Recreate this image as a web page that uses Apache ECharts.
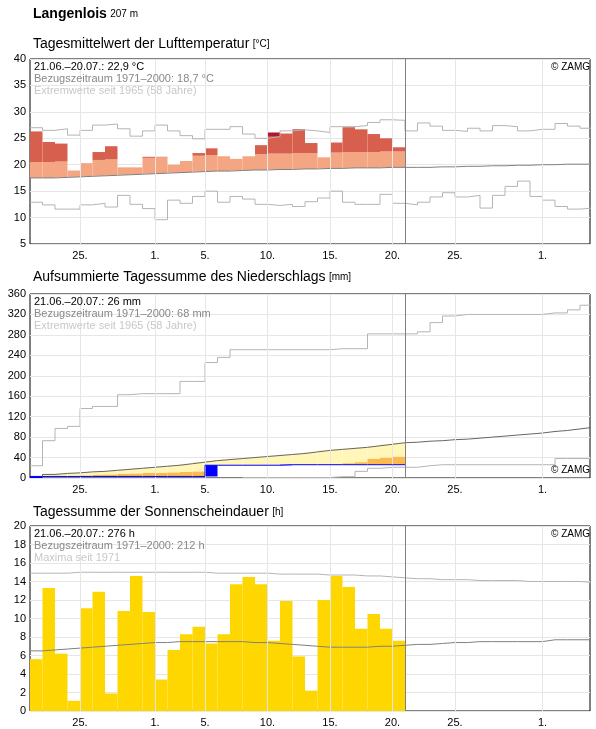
<!DOCTYPE html>
<html>
<head>
<meta charset="utf-8">
<script src="https://cdn.jsdelivr.net/npm/echarts@6/dist/echarts.min.js"></script>
<style>html,body{margin:0;padding:0;background:#fff}#c{width:596px;height:729px}</style>
</head>
<body>
<div id="c"></div>
<script>
// days from 21.06. (index 0) to 04.08. (index 44); observed period 21.06.-20.07. = index 0..29
const tickLabels = { 4: '25.', 10: '1.', 14: '5.', 19: '10.', 24: '15.', 29: '20.', 34: '25.', 41: '1.' };

// temperature (°C)
const tempMean = [26.3, 24.3, 24.0, 18.9, 20.3, 22.4, 23.5, 19.5, 19.5, 21.5, 21.5, 20.0, 20.7, 22.2, 23.1,
  21.6, 21.1, 21.6, 23.7, 26.1, 25.9, 26.7, 24.1, 21.4, 24.2, 27.1, 26.7, 25.8, 25.0, 23.3];
const tempClim = [17.5, 17.5, 17.6, 17.7, 17.8, 17.9, 18.0, 18.1, 18.2, 18.3, 18.4, 18.5, 18.6, 18.7, 18.8,
  18.8, 18.9, 19.0, 19.0, 19.1, 19.1, 19.2, 19.2, 19.3, 19.3, 19.4, 19.4, 19.4, 19.5, 19.5,
  19.5, 19.5, 19.6, 19.6, 19.7, 19.7, 19.8, 19.8, 19.9, 19.9, 20.0, 20.0, 20.1, 20.1, 20.1];
const tempMax = [27.0, 26.5, 26.8, 25.6, 26.5, 27.5, 27.7, 26.8, 25.4, 26.4, 27.5, 26.4, 25.5, 24.9, 26.7,
  26.7, 27.2, 25.8, 25.0, 25.3, 26.4, 26.6, 26.4, 26.1, 27.2, 27.2, 27.4, 28.0, 28.5, 28.4,
  26.4, 27.9, 27.3, 26.5, 26.3, 26.9, 26.4, 27.4, 27.2, 26.4, 26.7, 26.7, 27.8, 27.3, 26.9];
const tempMin = [12.9, 12.4, 11.6, 11.6, 12.4, 12.7, 12.0, 14.2, 12.5, 11.7, 9.6, 13.3, 12.7, 14.0, 15.0,
  12.9, 14.0, 13.5, 12.5, 12.3, 12.5, 12.1, 13.0, 13.7, 15.0, 12.9, 12.5, 12.5, 14.4, 12.7,
  12.4, 12.9, 13.9, 14.7, 13.9, 14.2, 11.8, 14.2, 15.9, 16.9, 14.0, 13.3, 12.1, 11.6, 11.8];

// precipitation (mm)
const rainDaily = [3, 0, 0, 0, 0, 0, 0, 0, 0, 0, 0, 0, 0, 0, 22, 0, 0, 0, 0, 0, 1, 0, 0, 0, 0, 0, 0, 0, 0, 0];
const rainClim = [3, 7, 9, 10, 12, 13, 15, 17, 19, 21, 23, 25, 28, 31, 34, 36, 38, 40, 42, 44, 46, 48, 51, 54, 56,
  58, 60, 63, 66, 69, 70, 72, 73, 75, 76, 78, 80, 82, 84, 86, 88, 91, 93, 96, 99];
const rainLow = [1, 2, 3, 4, 5, 6, 7, 8, 9, 10, 10, 11, 12, 13, 14, 15, 16, 17, 18, 19, 20, 21, 22, 24, 27,
  29, 31, 38, 40, 42];
const rainMax = [24, 73, 97, 101, 136, 140, 140, 163, 165, 165, 165, 165, 189, 189, 226, 236, 251, 251, 251, 251,
  251, 251, 251, 251, 253, 253, 253, 282, 282, 282, 282, 286, 304, 317, 320, 320, 320, 320, 320, 320, 320,
  323, 323, 329, 338];
const rainMin = [null, null, null, null, null, null, null, null, null, null, null, null, null, null, null, null, null,
  1, 1, 1, 1, 1, 1, 1, 2.6, 2.6, 13, 19, 21, 21, 21, 24, 26, 26, 26, 26, 26, 26, 26, 26, 26, 26, 38, 38, 38];

// sunshine (h)
const sun = [5.6, 13.3, 6.2, 1.1, 11.1, 12.9, 1.9, 10.8, 14.6, 10.7, 3.4, 6.6, 8.3, 9.1, 7.3,
  8.3, 13.7, 14.5, 13.7, 7.6, 11.9, 5.9, 2.2, 12.0, 14.6, 13.4, 8.9, 10.5, 8.9, 7.6];
const sunClim = [6.5, 6.6, 6.7, 6.8, 6.9, 7.0, 7.1, 7.2, 7.3, 7.4, 7.4, 7.5, 7.5, 7.5, 7.5,
  7.5, 7.5, 7.4, 7.4, 7.3, 7.2, 7.1, 7.0, 6.9, 6.9, 6.9, 6.9, 7.0, 7.0, 7.1,
  7.2, 7.2, 7.3, 7.4, 7.4, 7.5, 7.5, 7.5, 7.5, 7.5, 7.5, 7.7, 7.7, 7.7, 7.7];
const sunMax = [14.9, 14.9, 14.9, 15.0, 15.0, 15.0, 15.0, 15.0, 15.0, 15.0, 15.0, 15.0, 15.0, 15.0, 14.9,
  14.9, 14.9, 14.9, 14.9, 14.8, 14.8, 14.8, 14.8, 14.7, 14.7, 14.7, 14.6, 14.6, 14.5, 14.4,
  14.3, 14.3, 14.2, 14.2, 14.2, 14.1, 14.1, 14.1, 14.1, 14.0, 14.0, 14.0, 14.0, 14.0, 13.9];

const FONT = '"Liberation Sans", Arial, sans-serif';
const rectsTemp = [];
tempMean.forEach((t, i) => {
  const base = tempClim[i], thr = base + 3, mx = tempMax[i];
  rectsTemp.push([i, base, Math.min(t, thr), '#f4a582']);
  if (t > thr) rectsTemp.push([i, thr, Math.min(t, mx), '#d6604d']);
  if (t > mx) rectsTemp.push([i, mx, t, '#b2182b']);
});
const rectsRain = [];
let cum = 0;
const rainCum = [];
rainDaily.forEach((r, i) => {
  const prev = cum;
  cum += r;
  const lo = Math.max(cum, rainLow[i]);
  if (rainLow[i] > cum) rectsRain.push([i, cum, rainLow[i], '#fdb94d']);
  if (rainClim[i] > lo) rectsRain.push([i, lo, rainClim[i], '#fff6b8']);
  if (r > 0) rectsRain.push([i, prev, cum, '#0000ff', 1]);
  rainCum.push(cum);
});
const rectsSun = sun.map((s, i) => [i, 0, s, '#ffd700']);

function steps(arr) {
  const d = arr.map((v, i) => [i, v]);
  d.push([arr.length, arr[arr.length - 1]]);
  return d;
}
function rectSeries(data, g, z) {
  return {
    type: 'custom', xAxisIndex: g, yAxisIndex: g, z: z || 2, silent: true, data: data,
    renderItem: (p, api) => {
      const a = api.coord([api.value(0), api.value(2)]);
      const b = api.coord([api.value(0) + 1, api.value(1)]);
      return { type: 'rect', shape: { x: a[0], y: a[1], width: b[0] - a[0], height: b[1] - a[1] },
        style: { fill: data[p.dataIndex][3] }, z2: data[p.dataIndex][4] ? 5 : 0 };
    }
  };
}
function stepLine(arr, g, color, z) {
  return { type: 'line', xAxisIndex: g, yAxisIndex: g, step: 'end', data: steps(arr), symbol: 'none',
    silent: true, z: z || 3, lineStyle: { color: color, width: 1 }, connectNulls: false };
}
function gridLines(g) {
  return { type: 'line', xAxisIndex: g, yAxisIndex: g, data: [], z: 1, silent: true,
    markLine: { symbol: 'none', silent: true, label: { show: false }, animation: false,
      lineStyle: { color: '#e6e6e6', type: 'solid', width: 1 },
      data: Object.keys(tickLabels).map(k => ({ xAxis: +k })) } };
}
function nowLine(g) {
  return { type: 'line', xAxisIndex: g, yAxisIndex: g, data: [], z: 6, silent: true,
    markLine: { symbol: 'none', silent: true, label: { show: false }, animation: false,
      lineStyle: { color: '#808080', type: 'solid', width: 1 }, data: [{ xAxis: 30 }] } };
}
const grids = [{ top: 59, h: 185 }, { top: 294, h: 184 }, { top: 526, h: 185 }];
const yRanges = [[5, 40, 5], [0, 360, 40], [0, 20, 2]];

function infoText(y, lines) {
  const cols = ['#000', '#888', '#c8c8c8'];
  return lines.map((t, k) => ({ type: 'text', left: 34, top: y + k * 12, z: 10,
    style: { text: t, fill: cols[k], font: '11px ' + FONT } }));
}
function title(y, main, unit) {
  return { type: 'text', left: 33, top: y, z: 10, style: {
    text: '{a|' + main + '} {b|' + unit + '}', rich: { a: { font: '14px ' + FONT, fill: '#000' }, b: { font: '10px ' + FONT, fill: '#000' } } } };
}
const zamg = (x, y) => ({ type: 'text', left: x, top: y, z: 10, style: { text: '© ZAMG', fill: '#000', font: '10px ' + FONT } });

const chart = echarts.init(document.getElementById('c'), null, { renderer: 'canvas' });
chart.setOption({
  animation: false,
  grid: grids.map(g => ({ left: 30, right: 6, top: g.top, height: g.h, show: true, borderColor: '#000', borderWidth: 1, backgroundColor: 'transparent' })),
  xAxis: grids.map((g, k) => ({ type: 'value', gridIndex: k, min: 0, max: 44.8, interval: 1,
    axisLine: { show: false }, axisTick: { show: false }, splitLine: { show: false },
    axisLabel: { color: '#000', fontSize: 11, fontFamily: FONT, margin: 6, showMaxLabel: false,
      formatter: v => tickLabels[v] || '' } })),
  yAxis: yRanges.map((r, k) => ({ type: 'value', gridIndex: k, min: r[0], max: r[1], interval: r[2],
    axisLine: { show: false }, axisTick: { show: false },
    splitLine: { lineStyle: { color: '#e6e6e6' } },
    axisLabel: { color: '#000', fontSize: 11, fontFamily: FONT, margin: 4 } })),
  graphic: [
    { type: 'text', left: 33, top: 7, style: { text: '{a|Langenlois} {b|207 m}',
      rich: { a: { font: 'bold 14px ' + FONT, fill: '#000' }, b: { font: '10px ' + FONT, fill: '#000' } } } },
    title(37, 'Tagesmittelwert der Lufttemperatur', '[°C]'),
    title(270, 'Aufsummierte Tagessumme des Niederschlags', '[mm]'),
    title(505, 'Tagessumme der Sonnenscheindauer', '[h]'),
    ...infoText(61, ['21.06.–20.07.: 22,9 °C', 'Bezugszeitraum 1971–2000: 18,7 °C', 'Extremwerte seit 1965 (58 Jahre)']),
    ...infoText(296, ['21.06.–20.07.: 26 mm', 'Bezugszeitraum 1971–2000: 68 mm', 'Extremwerte seit 1965 (58 Jahre)']),
    ...infoText(528, ['21.06.–20.07.: 276 h', 'Bezugszeitraum 1971–2000: 212 h', 'Maxima seit 1971']),
    zamg(551, 62), zamg(551, 465), zamg(551, 529)
  ],
  series: [
    gridLines(0), gridLines(1), gridLines(2),
    rectSeries(rectsTemp, 0), stepLine(tempMax, 0, '#b4b4b4'), stepLine(tempMin, 0, '#b4b4b4'), stepLine(tempClim, 0, '#808080', 4),
    rectSeries(rectsRain, 1), stepLine(rainMax, 1, '#b4b4b4'), stepLine(rainMin, 1, '#b4b4b4'), stepLine(rainClim, 1, '#666', 4),
    stepLine(rainCum, 1, '#0000ff', 5),
    rectSeries(rectsSun, 2), stepLine(sunMax, 2, '#b4b4b4'), stepLine(sunClim, 2, '#808080', 4),
    nowLine(0), nowLine(1), nowLine(2)
  ]
});
</script>
</body>
</html>
